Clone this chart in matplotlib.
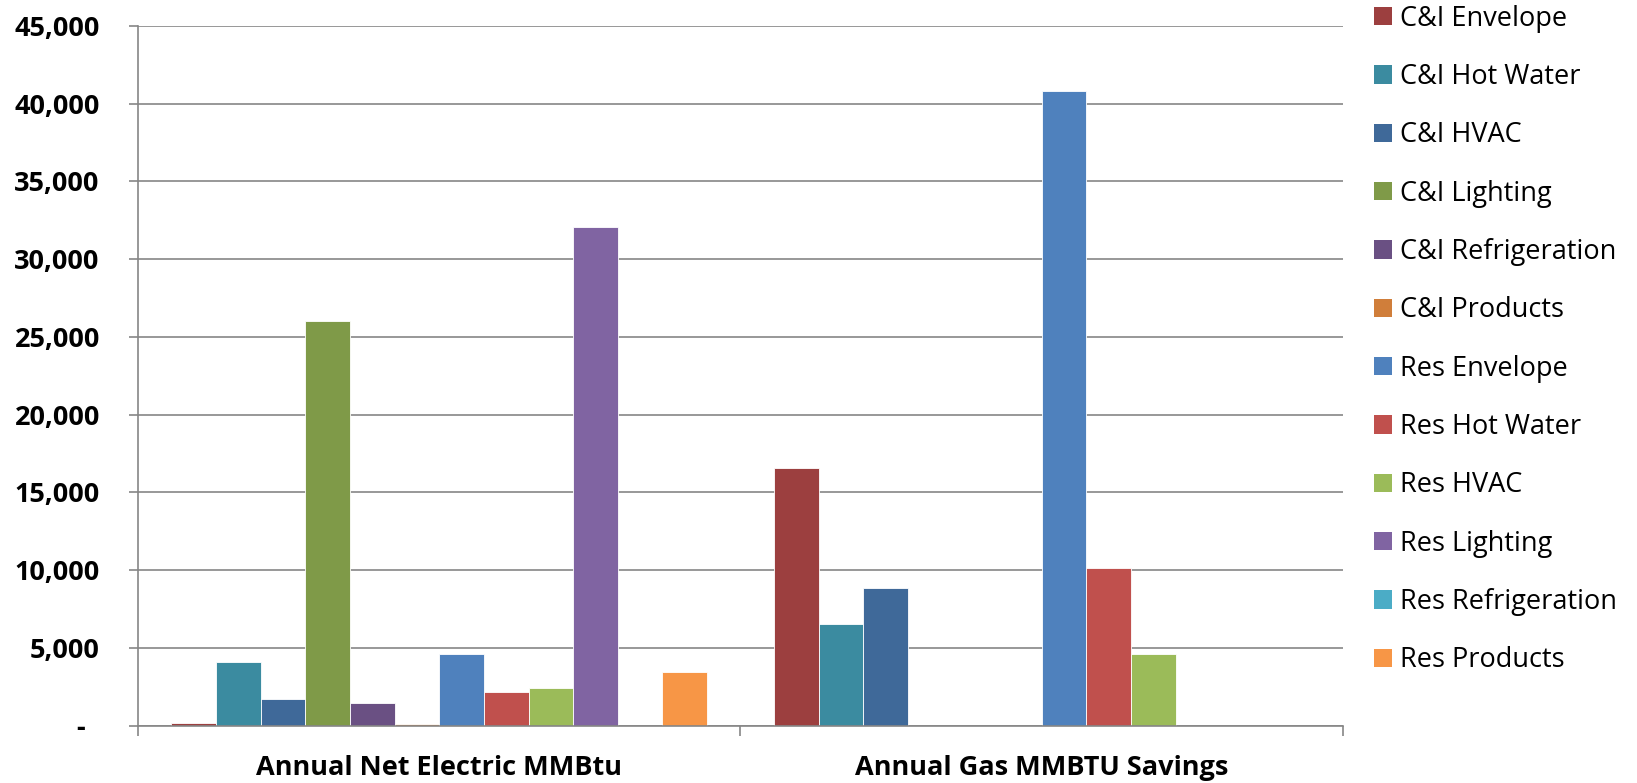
import matplotlib
matplotlib.use("Agg")
import matplotlib.pyplot as plt
import matplotlib.ticker as mticker
from matplotlib.patches import Patch
import numpy as np

plt.rcParams['font.family'] = ['Open Sans', 'DejaVu Sans']

categories = ["Annual Net Electric MMBtu", "Annual Gas MMBTU Savings"]

series_names = [
    "C&I Envelope", "C&I Hot Water", "C&I HVAC", "C&I Lighting",
    "C&I Refrigeration", "C&I Products", "Res Envelope", "Res Hot Water",
    "Res HVAC", "Res Lighting", "Res Refrigeration", "Res Products",
]

# values per series: [electric, gas]
cni_envelope = [150, 16600]
cni_hot_water = [4080, 6560]
cni_hvac = [1710, 8870]
cni_lighting = [26000, 0]
cni_refrigeration = [1450, 0]
cni_products = [110, 0]
res_envelope = [4620, 40800]
res_hot_water = [2160, 10150]
res_hvac = [2390, 4590]
res_lighting = [32100, 0]
res_refrigeration = [0, 0]
res_products = [3440, 0]

series_values = [
    cni_envelope, cni_hot_water, cni_hvac, cni_lighting, cni_refrigeration,
    cni_products, res_envelope, res_hot_water, res_hvac, res_lighting,
    res_refrigeration, res_products,
]

colors = [
    "#9C3F3F", "#3B8BA0", "#3F6999", "#7F9A48", "#6A5083", "#D07E3A",
    "#4F81BD", "#C0504D", "#9BBB59", "#8064A2", "#4BACC6", "#F79646",
]

grid_gray = "#868686"

fig = plt.figure(figsize=(16.37, 7.83), dpi=100)
ax = fig.add_axes([0.0843, 0.0733, 0.7361, 0.8935])

n = len(series_names)
bar_w = 1.0 / (n + 1.5)
x = np.arange(len(categories))
for i, (vals, c) in enumerate(zip(series_values, colors)):
    offset = (i - (n - 1) / 2) * bar_w
    ax.bar(x + offset, vals, width=bar_w, color=c, edgecolor="white",
           linewidth=0.6, zorder=3)

ax.set_xlim(-0.5, 1.5)
ax.set_ylim(0, 45000)
ax.set_yticks(np.arange(0, 45001, 5000))


def fmt(v, pos):
    if v == 0:
        return "-  "
    return f"{int(v):,}"


ax.yaxis.set_major_formatter(mticker.FuncFormatter(fmt))
ax.grid(axis="y", color=grid_gray, linewidth=1.2, zorder=0)

for s in ["top", "right"]:
    ax.spines[s].set_visible(False)
for s in ["left", "bottom"]:
    ax.spines[s].set_color(grid_gray)
    ax.spines[s].set_linewidth(1.2)
    ax.spines[s].set_zorder(4)

ax.tick_params(axis="y", length=6.5, width=1.2, color=grid_gray, pad=21,
               labelsize=19.5)
for lbl in ax.get_yticklabels():
    lbl.set_fontweight("bold")

ax.set_xticks(x)
ax.set_xticklabels(categories, fontsize=19.5, fontweight="bold")
ax.tick_params(axis="x", length=0, pad=21)
ax.set_xticks([-0.5, 0.5, 1.5], minor=True)
ax.tick_params(axis="x", which="minor", length=7.2, width=1.2, color=grid_gray)

handles = [Patch(facecolor=c, edgecolor="none") for c in colors]
fig.legend(handles, series_names, loc="upper left",
           bbox_to_anchor=(0.8327, 1.008), frameon=False, fontsize=19.5,
           handlelength=0.66, handleheight=0.66, handletextpad=0.3,
           labelspacing=1.12, borderaxespad=0)

fig.savefig("out.png", dpi=100)
